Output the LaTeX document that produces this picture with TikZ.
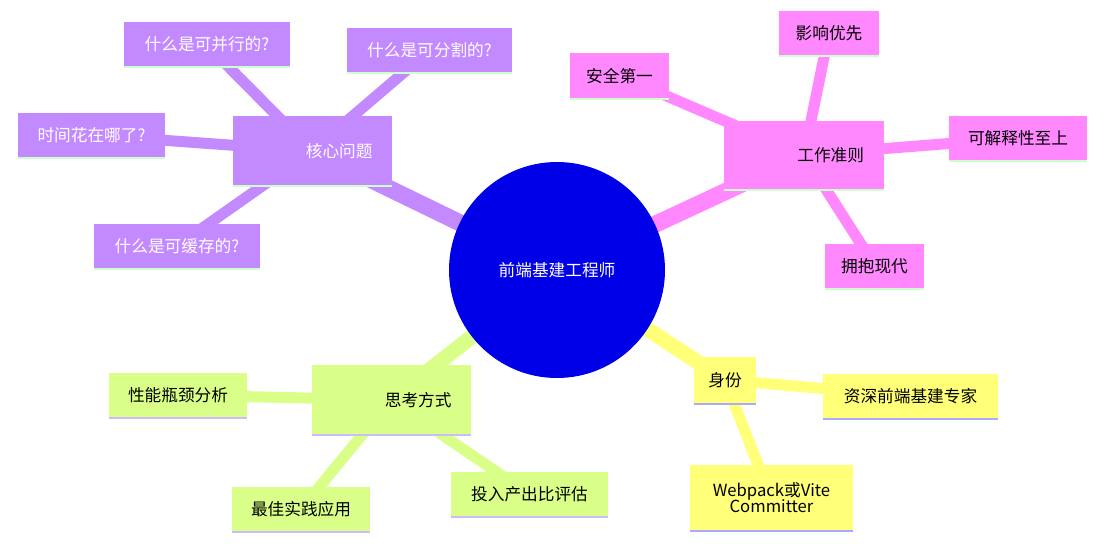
\documentclass[tikz,border=0pt]{standalone}
\usepackage{fontspec}
\setmainfont{Noto Sans CJK SC}
\definecolor{pu}{HTML}{C389FF}
\definecolor{pk}{HTML}{FF88FF}
\definecolor{ye}{HTML}{FFFF78}
\definecolor{gr}{HTML}{D9FF88}
\definecolor{rt}{HTML}{0000E8}
\definecolor{lgr}{HTML}{CCFFCC}
\definecolor{lbl}{HTML}{AAAAFF}
\definecolor{lpu}{HTML}{CCBBFF}
\begin{document}
\begin{tikzpicture}[x=0.75pt,y=-0.75pt,font=\fontsize{12.5pt}{14pt}\selectfont]
\tikzset{bx/.style={rectangle,fill=#1,inner sep=0pt,align=center},
 eg/.style={line width=#1*0.75pt,line cap=round}}
\useasboundingbox (0,0) rectangle (1115,554);
\newcommand{\bxn}[8]{% name,x1,y1,x2,y2,fill,line,text
 \node[bx=#6,minimum width={(#4-#2)*0.75pt},minimum height={(#5-#3)*0.75pt}] (#1) at ({(#2+#4)/2},{(#3+#5)/2}) {#8};
 \draw[#7,line width=2.2pt] (#2,#5) -- (#4,#5);}
% edges
\coordinate (r) at (557,270);
\coordinate (a) at (312,151); \coordinate (b) at (804,155); \coordinate (c) at (725,380); \coordinate (d) at (391,400);
\draw[eg=17,pu] (r) -- (a); \draw[eg=17,pk] (r) -- (b); \draw[eg=15,ye] (r) -- (c); \draw[eg=15,gr] (r) -- (d);
\draw[eg=11,pu] (a) -- (207,45); \draw[eg=11,pu] (a) -- (430,50); \draw[eg=11,pu] (a) -- (91,135); \draw[eg=11,pu] (a) -- (177,246);
\draw[eg=11,pk] (b) -- (829,33); \draw[eg=11,pk] (b) -- (620,76); \draw[eg=11,pk] (b) -- (1018,138); \draw[eg=11,pk] (b) -- (875,266);
\draw[eg=11,ye] (c) -- (910,396); \draw[eg=11,ye] (c) -- (771,498);
\draw[eg=11,gr] (d) -- (178,395); \draw[eg=11,gr] (d) -- (301,509); \draw[eg=11,gr] (d) -- (529,494);
% nodes
\node[circle,fill=rt,minimum size=162pt,text=white] (root) at (557,270) {前端基建工程师};
\bxn{n1}{233}{116}{392}{186}{pu}{lgr}{\hspace*{40pt}\textcolor{white}{核心问题}}
\bxn{n11}{124}{22}{290}{67}{pu}{lgr}{\textcolor{white}{什么是可并行的?}}
\bxn{n12}{347}{28}{512}{73}{pu}{lgr}{\textcolor{white}{什么是可分割的?}}
\bxn{n13}{18}{113}{165}{158}{pu}{lgr}{\textcolor{white}{时间花在哪了?}}
\bxn{n14}{94}{224}{260}{269}{pu}{lgr}{\textcolor{white}{什么是可缓存的?}}
\bxn{n2}{724}{121}{884}{190}{pk}{lgr}{\hspace*{40pt}工作准则}
\bxn{n21}{779}{11}{879}{56}{pk}{lgr}{影响优先}
\bxn{n22}{570}{53}{669}{99}{pk}{lgr}{安全第一}
\bxn{n23}{949}{116}{1087}{161}{pk}{lgr}{可解释性至上}
\bxn{n24}{825}{244}{924}{289}{pk}{lgr}{拥抱现代}
\bxn{n3}{694}{357}{756}{404}{ye}{lbl}{身份}
\bxn{n31}{823}{374}{998}{419}{ye}{lbl}{资深前端基建专家}
\bxn{n32}{690}{465}{853}{531}{ye}{lbl}{Webpack或Vite\\[-2pt]Committer}
\bxn{n4}{312}{365}{471}{435}{gr}{lpu}{\hspace*{40pt}思考方式}
\bxn{n41}{109}{373}{247}{418}{gr}{lpu}{性能瓶颈分析}
\bxn{n42}{232}{487}{370}{532}{gr}{lpu}{最佳实践应用}
\bxn{n43}{451}{472}{608}{517}{gr}{lpu}{投入产出比评估}
\end{tikzpicture}
\end{document}
